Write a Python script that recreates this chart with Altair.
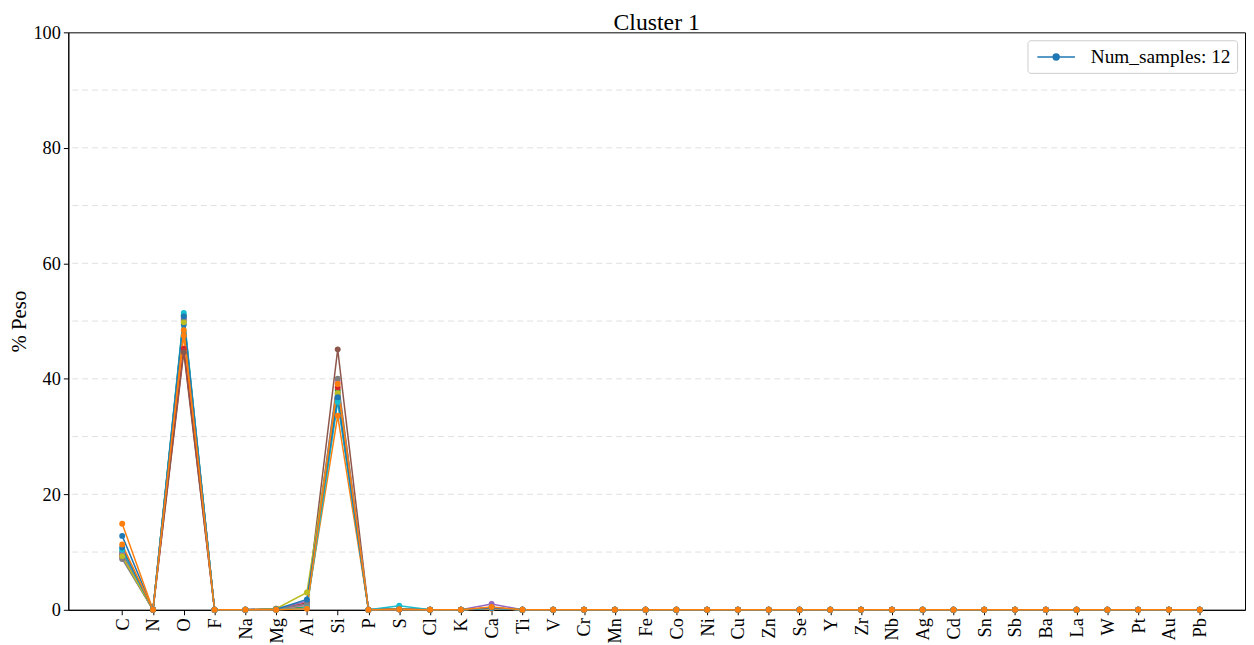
import altair as alt
import pandas as pd
import json

elements = ["C", "N", "O", "F", "Na", "Mg", "Al", "Si", "P", "S", "Cl", "K", "Ca", "Ti",
            "V", "Cr", "Mn", "Fe", "Co", "Ni", "Cu", "Zn", "Se", "Y", "Zr", "Nb", "Ag",
            "Cd", "Sn", "Sb", "Ba", "La", "W", "Pt", "Au", "Pb"]

samples = ["S01", "S02", "S03", "S04", "S05", "S06", "S07", "S08", "S09", "S10", "S11", "S12"]
colors = ["#1f77b4", "#ff7f0e", "#2ca02c", "#d62728", "#9467bd", "#8c564b",
          "#e377c2", "#7f7f7f", "#bcbd22", "#17becf", "#1f77b4", "#ff7f0e"]

# non-zero readings per sample: C, O, Mg, Al, Si, S, Ca
c_vals  = [12.8, 14.9, 10.0,  9.5,  9.7,  9.2,  9.0,  8.8,  9.3, 10.4, 10.8, 11.3]
o_vals  = [49.4, 47.5, 51.0, 45.2, 50.5, 44.6, 50.0, 50.2, 49.8, 51.4, 50.8, 48.4]
mg_vals = [0.1,  0.0,  0.1,  0.2,  0.1,  0.0,  0.1,  0.1,  0.2,  0.0,  0.1,  0.0]
al_vals = [1.0,  0.8,  0.5,  1.2,  1.5,  1.0,  0.8,  1.0,  3.0,  0.3,  1.8,  0.2]
si_vals = [36.5, 33.6, 38.0, 38.5, 37.5, 45.1, 39.5, 40.0, 37.5, 36.0, 36.8, 39.1]
s_vals  = [0.1,  0.1,  0.1,  0.1,  0.1,  0.1,  0.1,  0.1,  0.1,  0.7,  0.1,  0.1]
ca_vals = [0.3,  0.2,  0.3,  0.3,  1.0,  0.3,  0.3,  0.3,  0.3,  0.3,  0.3,  0.5]

legend_label = "Num_samples: 12"
grid_values = [10, 20, 30, 40, 50, 60, 70, 80, 90]
y_ticks = [0, 20, 40, 60, 80, 100]

rows = []
for i, s in enumerate(samples):
    vals = {"C": c_vals[i], "O": o_vals[i], "Mg": mg_vals[i], "Al": al_vals[i],
            "Si": si_vals[i], "S": s_vals[i], "Ca": ca_vals[i]}
    for j, el in enumerate(elements):
        rows.append({"sample": s, "element": el, "value": vals.get(el, 0.0), "idx": j})
df = pd.DataFrame(rows)

FONT = "Liberation Serif"
n = len(elements)
x_scale = alt.Scale(domain=[-1.75, n - 1 + 1.47], nice=False, zero=False)
x_axis = alt.Axis(title=None, values=list(range(n)),
                  labelExpr=json.dumps(elements) + "[datum.value]",
                  labelAngle=270, labelAlign="right", labelBaseline="middle",
                  labelFont=FONT, labelFontSize=18.5, labelColor="black",
                  tickColor="black", domainColor="black", tickSize=5, labelPadding=3,
                  grid=False, labelOverlap=False, labelFlush=False, labelBound=False)
y_scale = alt.Scale(domain=[0, 100], nice=False, zero=True)
y_axis = alt.Axis(title="% Peso", values=y_ticks, grid=False,
                  labelFont=FONT, labelFontSize=18.5, labelColor="black",
                  titleFont=FONT, titleFontSize=21, titleFontWeight="normal",
                  titleColor="black", titlePadding=4, tickSize=5,
                  tickColor="black", domainColor="black", labelPadding=3)

grid = alt.Chart(pd.DataFrame({"g": grid_values})).mark_rule(
    color="#e0e0e0", strokeDash=[6, 4], strokeWidth=1
).encode(y=alt.Y("g:Q", scale=y_scale, axis=y_axis))

lines = alt.Chart(df).mark_line(
    strokeWidth=1.5, point=alt.OverlayMarkDef(filled=True, size=36, opacity=1)
).encode(
    x=alt.X("idx:Q", scale=x_scale, axis=x_axis),
    y=alt.Y("value:Q", scale=y_scale, axis=y_axis),
    color=alt.Color("sample:N", scale=alt.Scale(domain=samples, range=colors), legend=None),
    order=alt.Order("idx:Q"),
)

leg_df = pd.DataFrame({"idx": [n - 1], "value": [0.0], "label": [legend_label]})
legend_layer = alt.Chart(leg_df).mark_line(strokeWidth=1.5).encode(
    x=alt.X("idx:Q", scale=x_scale, axis=x_axis),
    y=alt.Y("value:Q", scale=y_scale, axis=y_axis),
    color=alt.Color("label:N", scale=alt.Scale(domain=[legend_label], range=["#1f77b4"]),
                    legend=alt.Legend(title=None, orient="top-right", offset=8,
                                      labelFont=FONT, labelFontSize=19.5, labelColor="black",
                                      symbolType="M-1.9,0H1.9M-0.3,0A0.3,0.3,0,1,0,0.3,0A0.3,0.3,0,1,0,-0.3,0Z",
                                      symbolSize=400, symbolStrokeWidth=1.5, symbolOffset=12,
                                      symbolFillColor="#1f77b4", symbolStrokeColor="#1f77b4",
                                      strokeColor="#cccccc", fillColor="white", cornerRadius=3,
                                      padding=6, labelOffset=24)),
)

chart = alt.layer(grid, lines, legend_layer).resolve_scale(color="independent").properties(
    width=1252, height=639,
    padding={"left": 0, "top": 0, "right": 0, "bottom": 0},
    autosize=alt.AutoSizeParams(type="fit", contains="padding"),
    title=alt.TitleParams("Cluster 1", font=FONT, fontSize=24, fontWeight="normal",
                          color="black", offset=-12),
).configure(background="white").configure_view(stroke="black", strokeWidth=1)

chart.save("out.html", embed_options={"renderer": "svg", "actions": False})
